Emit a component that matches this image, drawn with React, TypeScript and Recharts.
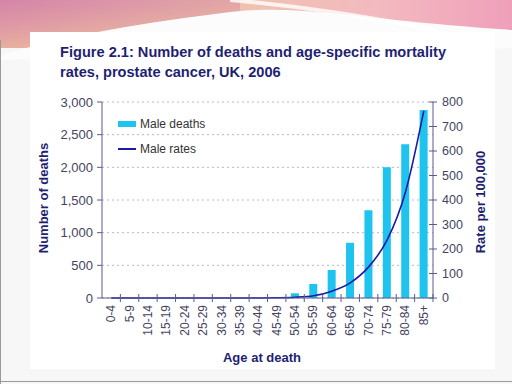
import React from "react";
import {
  ComposedChart,
  Bar,
  Line,
  XAxis,
  YAxis,
  CartesianGrid,
  Legend,
  Label,
} from "recharts";

const ages = [
  "0-4", "5-9", "10-14", "15-19", "20-24", "25-29", "30-34", "35-39", "40-44",
  "45-49", "50-54", "55-59", "60-64", "65-69", "70-74", "75-79", "80-84", "85+",
];
const maleDeaths = [0, 0, 0, 0, 0, 0, 0, 1, 3, 16, 72, 215, 430, 845, 1345, 2000, 2352, 2877];
const maleRates = [0, 0, 0, 0, 0, 0, 0, 0, 0.3, 1, 3, 9, 28, 62, 127, 236, 432, 764];
const deathTicks = [0, 500, 1000, 1500, 2000, 2500, 3000];
const rateTicks = [0, 100, 200, 300, 400, 500, 600, 700, 800];

const data = ages.map((age, i) => ({ age, deaths: maleDeaths[i], rate: maleRates[i] }));

const W = 512;
const H = 384;
const LEFT_AXIS_W = 102;
const RIGHT_AXIS_W = 79;
const TOP = 102;
const X_AXIS_H = 86;
const PLOT_W = W - LEFT_AXIS_W - RIGHT_AXIS_W;
const HALF_BAND = PLOT_W / ages.length / 2;

const AXIS = "#5b5b8e";
const NAVY = "#1f1f72";
const TICK_TEXT = "#44445f";
const FONT = "'Liberation Sans', Arial, sans-serif";

function XTick({ x, y, payload }: any) {
  const ty = y + 7;
  return (
    <g>
      <line x1={x + HALF_BAND} x2={x + HALF_BAND} y1={y - 4} y2={y + 4} stroke={AXIS} />
      <text
        x={x}
        y={ty}
        transform={`rotate(-90 ${x} ${ty})`}
        textAnchor="end"
        dominantBaseline="central"
        fontSize={12}
        fill={TICK_TEXT}
        fontFamily={FONT}
      >
        {payload.value}
      </text>
    </g>
  );
}

function RightTick({ x, y, payload }: any) {
  return (
    <g>
      <line x1={x - 4} x2={x + 4} y1={y} y2={y} stroke={AXIS} />
      <text x={x + 9} y={y} dominantBaseline="central" fontSize={12.5} fill={TICK_TEXT} fontFamily={FONT}>
        {payload.value}
      </text>
    </g>
  );
}

function LegendBox() {
  return (
    <div style={{ fontFamily: FONT, fontSize: 12, color: "#333" }}>
      <div style={{ display: "flex", alignItems: "center", height: 14 }}>
        <span style={{ display: "inline-block", width: 18, height: 6, background: "#1ec3ee", marginRight: 4 }} />
        Male deaths
      </div>
      <div style={{ display: "flex", alignItems: "center", height: 14, marginTop: 11 }}>
        <span style={{ display: "inline-block", width: 18, height: 2, background: "#1a1aa6", marginRight: 4 }} />
        Male rates
      </div>
    </div>
  );
}

function Background() {
  return (
    <svg width={W} height={H} style={{ position: "absolute", left: 0, top: 0 }}>
      <defs>
        <linearGradient id="band" x1="0" y1="0" x2="1" y2="0">
          <stop offset="0%" stopColor="#dc93b2" />
          <stop offset="45%" stopColor="#eec3ae" />
          <stop offset="75%" stopColor="#f3b9c0" />
          <stop offset="100%" stopColor="#ef9fba" />
        </linearGradient>
        <linearGradient id="bandV" x1="0" y1="0" x2="0" y2="1">
          <stop offset="0%" stopColor="#c86a98" stopOpacity={0.35} />
          <stop offset="100%" stopColor="#f7d08a" stopOpacity={0.45} />
        </linearGradient>
      </defs>
      <rect x={0} y={0} width={W} height={H} fill="#f7f7f7" />
      <rect x={0} y={0} width={W} height={48} fill="url(#band)" />
      <rect x={0} y={0} width={240} height={48} fill="url(#bandV)" />
      <path d="M0,56 C60,36 150,22 230,12 C300,4 360,20 512,30 L512,48 L0,60 Z" fill="#fcfcfc" />
      <path d="M230,0 C300,6 380,18 440,32" stroke="#ffffff" strokeWidth={4} fill="none" opacity={0.8} />
      <rect x={30} y={32} width={465} height={337} fill="#ffffff" />
      <line x1={0.5} y1={40} x2={0.5} y2={H} stroke="#9a9a9a" />
      <line x1={0} y1={381.5} x2={W} y2={381.5} stroke="#9a9a9a" />
    </svg>
  );
}

export default function App() {
  return (
    <div style={{ position: "fixed", left: 0, top: 0, width: W, height: H, overflow: "hidden" }}>
      <Background />
      <div
        style={{
          position: "absolute",
          left: 60,
          top: 42,
          fontFamily: FONT,
          fontWeight: "bold",
          fontSize: 14.6,
          lineHeight: "20px",
          color: NAVY,
        }}
      >
        Figure 2.1: Number of deaths and age-specific mortality
        <br />
        rates, prostate cancer, UK, 2006
      </div>
      <div style={{ position: "absolute", left: 0, top: 0 }}>
        <ComposedChart
          width={W}
          height={H}
          data={data}
          margin={{ top: TOP, right: 0, bottom: 0, left: 0 }}
          barCategoryGap={0}
        >
          <CartesianGrid
            yAxisId="deaths"
            vertical={false}
            stroke="#b8b8c8"
            strokeDasharray="2 3"
          />
          <XAxis
            dataKey="age"
            height={X_AXIS_H}
            interval={0}
            stroke={AXIS}
            tickLine={false}
            tickSize={0}
            tickMargin={0}
            tick={<XTick />}
          >
            <Label
              content={() => (
                <text x={262} y={362} textAnchor="middle" fontSize={13} fontWeight="bold" fill={NAVY} fontFamily={FONT}>
                  Age at death
                </text>
              )}
            />
          </XAxis>
          <YAxis
            yAxisId="deaths"
            width={LEFT_AXIS_W}
            domain={[0, 3000]}
            ticks={deathTicks}
            interval={0}
            stroke={AXIS}
            tickSize={5}
            tickMargin={4}
            tick={{ fill: TICK_TEXT, fontSize: 13, fontFamily: FONT }}
            tickFormatter={(v: number) => v.toLocaleString("en-GB")}
          >
            <Label
              content={() => (
                <text
                  x={43}
                  y={198}
                  transform="rotate(-90 43 198)"
                  textAnchor="middle"
                  dominantBaseline="central"
                  fontSize={13}
                  fontWeight="bold"
                  fill={NAVY}
                  fontFamily={FONT}
                >
                  Number of deaths
                </text>
              )}
            />
          </YAxis>
          <YAxis
            yAxisId="rate"
            orientation="right"
            width={RIGHT_AXIS_W}
            domain={[0, 800]}
            ticks={rateTicks}
            interval={0}
            stroke={AXIS}
            tickLine={false}
            tickSize={0}
            tickMargin={0}
            tick={<RightTick />}
          >
            <Label
              content={() => (
                <text
                  x={480}
                  y={202}
                  transform="rotate(-90 480 202)"
                  textAnchor="middle"
                  dominantBaseline="central"
                  fontSize={13}
                  fontWeight="bold"
                  fill={NAVY}
                  fontFamily={FONT}
                >
                  Rate per 100,000
                </text>
              )}
            />
          </YAxis>
          <Legend
            layout="vertical"
            align="center"
            verticalAlign="middle"
            content={<LegendBox />}
            wrapperStyle={{ left: 118, top: 117, width: 120 }}
          />
          <Bar
            yAxisId="deaths"
            dataKey="deaths"
            name="Male deaths"
            fill="#1ec3ee"
            barSize={8}
            isAnimationActive={false}
          />
          <Line
            yAxisId="rate"
            dataKey="rate"
            name="Male rates"
            type="monotone"
            stroke="#1a1aa6"
            strokeWidth={1.6}
            dot={false}
            isAnimationActive={false}
          />
        </ComposedChart>
      </div>
    </div>
  );
}
